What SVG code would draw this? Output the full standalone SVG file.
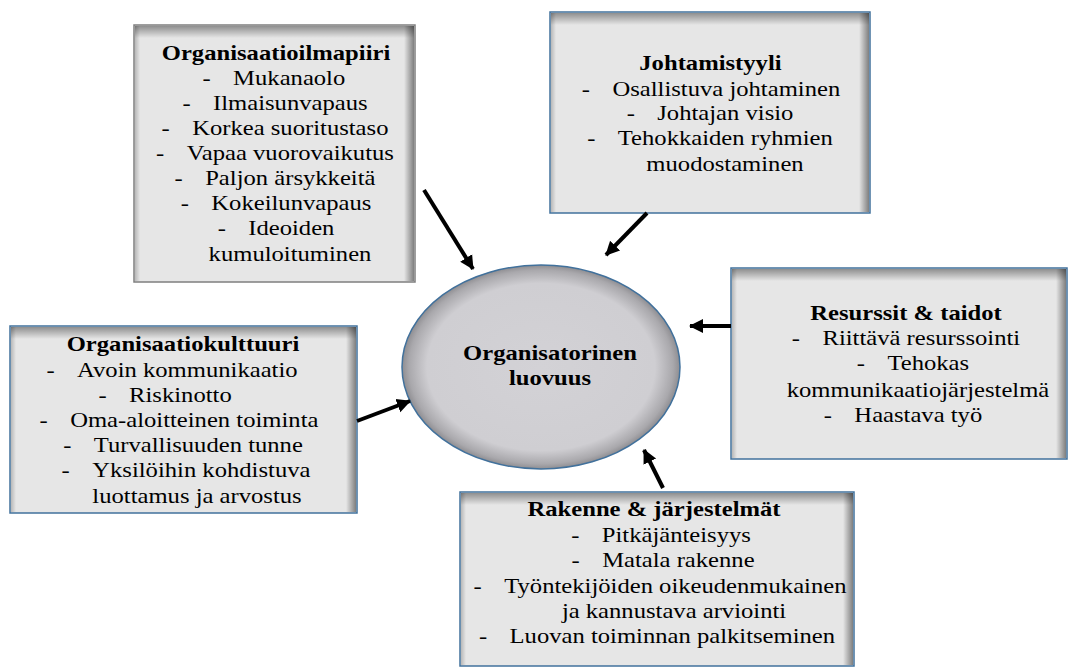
<svg xmlns="http://www.w3.org/2000/svg" width="1069" height="668" viewBox="0 0 1069 668">
<style>
.box{fill:#e6e6e6;stroke:#41719c;stroke-width:1.5}
.box.gray{stroke:#7f7f7f}
.t{font-family:'Liberation Serif','Tinos','Times New Roman','DejaVu Serif',serif;font-size:22px;fill:#000;text-anchor:middle}
.b{font-weight:bold}
.conn line{stroke:#000;stroke-width:4;marker-end:url(#ah)}
</style>
<defs>
<linearGradient id="gTop" x1="0" y1="0" x2="0" y2="1"><stop offset="0" stop-color="#000" stop-opacity="0.38"/><stop offset="1" stop-color="#000" stop-opacity="0"/></linearGradient>
<linearGradient id="gRight" x1="1" y1="0" x2="0" y2="0"><stop offset="0" stop-color="#000" stop-opacity="0.45"/><stop offset="1" stop-color="#000" stop-opacity="0"/></linearGradient>
<linearGradient id="gLeft" x1="0" y1="0" x2="1" y2="0"><stop offset="0" stop-color="#000" stop-opacity="0.2"/><stop offset="1" stop-color="#000" stop-opacity="0"/></linearGradient>
<radialGradient id="gEll" cx="0.5" cy="0.5" r="0.5"><stop offset="0" stop-color="#d3d2d6"/><stop offset="0.82" stop-color="#cfced2"/><stop offset="0.95" stop-color="#a9a8ac"/><stop offset="1" stop-color="#8e8d91"/></radialGradient>
<marker id="ah" markerWidth="16" markerHeight="16" refX="13" refY="8" orient="auto" markerUnits="userSpaceOnUse"><path d="M0,1 L14,8 L0,15 Z" fill="#000"/></marker>
</defs>
<rect width="1069" height="668" fill="#fff"/>

<g id="organisaatioilmapiiri">
<rect class="box gray" x="134" y="25" width="281" height="257"/>
<rect x="135" y="26" width="279" height="12" fill="url(#gTop)"/>
<rect x="404" y="26" width="10" height="255" fill="url(#gRight)"/>
<rect x="135" y="26" width="5" height="255" fill="url(#gLeft)"/>
<g transform="translate(275,0) scale(1.12,1)">
<text class="t b" x="0.9" y="60">Organisaatioilmapiiri</text>
<text class="t" x="-1" y="85">-<tspan dx="20">Mukanaolo</tspan></text>
<text class="t" x="0" y="110">-<tspan dx="20">Ilmaisunvapaus</tspan></text>
<text class="t" x="0" y="135">-<tspan dx="20">Korkea suoritustaso</tspan></text>
<text class="t" x="0" y="160">-<tspan dx="20">Vapaa vuorovaikutus</tspan></text>
<text class="t" x="0" y="185">-<tspan dx="20">Paljon ärsykkeitä</tspan></text>
<text class="t" x="0.9" y="210">-<tspan dx="20">Kokeilunvapaus</tspan></text>
<text class="t" x="0.9" y="235">-<tspan dx="20">Ideoiden</tspan></text>
<text class="t" x="13.4" y="261">kumuloituminen</text>
</g>
</g>

<g id="johtamistyyli">
<rect class="box" x="550" y="12" width="320" height="201"/>
<rect x="551" y="13" width="318" height="12" fill="url(#gTop)"/>
<rect x="859" y="13" width="10" height="199" fill="url(#gRight)"/>
<rect x="551" y="13" width="5" height="199" fill="url(#gLeft)"/>
<g transform="translate(710,0) scale(1.12,1)">
<text class="t b" x="0.4" y="70">Johtamistyyli</text>
<text class="t" x="0.9" y="96">-<tspan dx="20">Osallistuva johtaminen</tspan></text>
<text class="t" x="0" y="120">-<tspan dx="20">Johtajan visio</tspan></text>
<text class="t" x="0" y="145">-<tspan dx="20">Tehokkaiden ryhmien</tspan></text>
<text class="t" x="13.4" y="171">muodostaminen</text>
</g>
</g>

<g id="resurssit">
<rect class="box" x="731" y="268" width="336" height="191"/>
<rect x="732" y="269" width="334" height="12" fill="url(#gTop)"/>
<rect x="1056" y="269" width="10" height="189" fill="url(#gRight)"/>
<rect x="732" y="269" width="5" height="189" fill="url(#gLeft)"/>
<g transform="translate(906,0) scale(1.12,1)">
<text class="t b" x="0" y="320">Resurssit &amp; taidot</text>
<text class="t" x="0" y="345">-<tspan dx="20">Riittävä resurssointi</tspan></text>
<text class="t" x="6.2" y="370">-<tspan dx="20">Tehokas</tspan></text>
<text class="t" x="10.7" y="397">kommunikaatiojärjestelmä</text>
<text class="t" x="-2.7" y="422">-<tspan dx="20">Haastava työ</tspan></text>
</g>
</g>

<g id="organisaatiokulttuuri">
<rect class="box" x="10" y="326" width="347" height="187"/>
<rect x="11" y="327" width="345" height="12" fill="url(#gTop)"/>
<rect x="346" y="327" width="10" height="185" fill="url(#gRight)"/>
<rect x="11" y="327" width="5" height="185" fill="url(#gLeft)"/>
<g transform="translate(183,0) scale(1.12,1)">
<text class="t b" x="0" y="351">Organisaatiokulttuuri</text>
<text class="t" x="-9.8" y="377">-<tspan dx="20">Avoin kommunikaatio</tspan></text>
<text class="t" x="-16" y="402">-<tspan dx="20">Riskinotto</tspan></text>
<text class="t" x="-3.6" y="427">-<tspan dx="20">Oma-aloitteinen toiminta</tspan></text>
<text class="t" x="0" y="452">-<tspan dx="20">Turvallisuuden tunne</tspan></text>
<text class="t" x="2.7" y="477">-<tspan dx="20">Yksilöihin kohdistuva</tspan></text>
<text class="t" x="12.5" y="503">luottamus ja arvostus</text>
</g>
</g>

<g id="rakenne">
<rect class="box" x="460" y="492" width="394" height="174"/>
<rect x="461" y="493" width="392" height="12" fill="url(#gTop)"/>
<rect x="843" y="493" width="10" height="172" fill="url(#gRight)"/>
<rect x="461" y="493" width="5" height="172" fill="url(#gLeft)"/>
<g transform="translate(657,0) scale(1.12,1)">
<text class="t b" x="-2.7" y="516">Rakenne &amp; järjestelmät</text>
<text class="t" x="3.6" y="542">-<tspan dx="20">Pitkäjänteisyys</tspan></text>
<text class="t" x="5.4" y="567">-<tspan dx="20">Matala rakenne</tspan></text>
<text class="t" x="2.7" y="593">-<tspan dx="20">Työntekijöiden oikeudenmukainen</tspan></text>
<text class="t" x="15.2" y="618">ja kannustava arviointi</text>
<text class="t" x="0" y="643">-<tspan dx="20">Luovan toiminnan palkitseminen</tspan></text>
</g>
</g>

<g id="luovuus">
<ellipse cx="541" cy="367" rx="139" ry="102" fill="url(#gEll)" stroke="#41719c" stroke-width="1.5"/>
<g transform="translate(550,0) scale(1.12,1)">
<text class="t b" x="0" y="360">Organisatorinen</text>
<text class="t b" x="0" y="385">luovuus</text>
</g>
</g>

<g id="connectors" class="conn">
<line x1="424" y1="190" x2="473" y2="269"/>
<line x1="647" y1="213" x2="606" y2="255"/>
<line x1="731" y1="326" x2="690" y2="326"/>
<line x1="357" y1="421" x2="410" y2="401"/>
<line x1="663" y1="488" x2="644" y2="450"/>
</g>
</svg>
